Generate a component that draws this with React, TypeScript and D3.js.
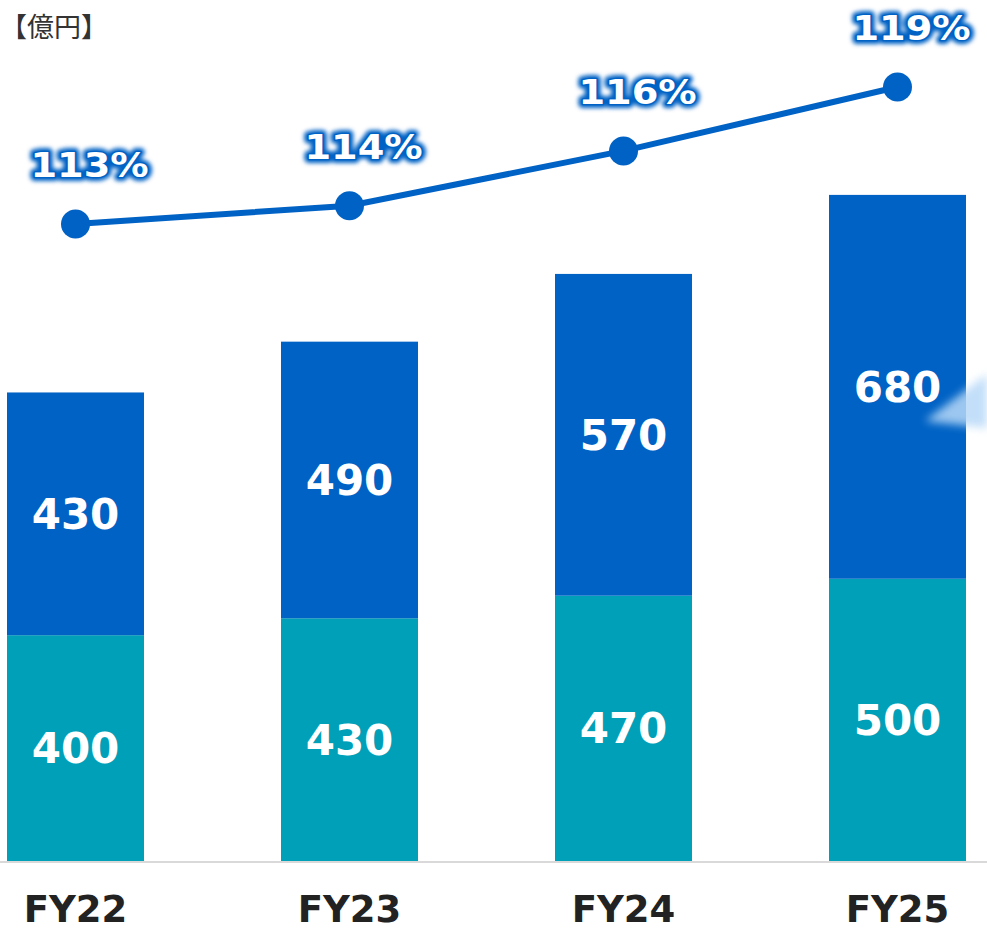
import React from "react";
import * as d3 from "d3";

const categories = ["FY22", "FY23", "FY24", "FY25"];
const lowerValues = [400, 430, 470, 500];
const upperValues = [430, 490, 570, 680];
const ratioValues = [113.0, 113.8, 116.2, 119.0];
const unitLabel = "【億円】";

const W = 987;
const H = 931;
const BASE = 861;

export default function App() {
  const x = d3.scaleBand<string>().domain(categories).range([7, 966]).paddingInner(0.5).paddingOuter(0);
  const y = d3.scaleLinear().domain([0, 1000]).range([BASE, BASE - 564.5]);
  const yp = d3.scaleLinear().domain([113, 119]).range([224, 87]);
  const bw = x.bandwidth();
  const cx = (c: string) => (x(c) as number) + bw / 2;

  const linePts: [number, number][] = categories.map((c, i) => [cx(c), yp(ratioValues[i])]);
  const line = d3.line()(linePts) as string;

  const colTop = "#0062c4";
  const colBot = "#00a0b8";

  return (
    <svg width={W} height={H} style={{ position: "absolute", left: 0, top: 0 }}>
      <defs>
        <filter id="glow" x="-20%" y="-50%" width="140%" height="200%">
          <feGaussianBlur stdDeviation="2" />
        </filter>
        <filter id="wedge" x="-50%" y="-50%" width="200%" height="200%">
          <feGaussianBlur stdDeviation="4" />
        </filter>
      </defs>
      <rect width={W} height={H} fill="#fff" />
      <text x={0} y={37} fontFamily="'Noto Sans CJK JP', sans-serif" fontSize={27} fill="#333">
        {unitLabel}
      </text>
      {categories.map((c, i) => {
        const x0 = x(c) as number;
        const yb = y(lowerValues[i]);
        const yt = y(lowerValues[i] + upperValues[i]);
        return (
          <g key={c}>
            <rect x={x0} y={yb} width={bw} height={BASE - yb} fill={colBot} />
            <rect x={x0} y={yt} width={bw} height={yb - yt} fill={colTop} />
            <text x={cx(c)} y={(yb + BASE) / 2} dy="0.36em" textAnchor="middle" fontFamily="'DejaVu Sans', sans-serif" fontWeight="bold" fontSize={42} fill="#fff">
              {lowerValues[i]}
            </text>
            <text x={cx(c)} y={(yb + yt) / 2} dy="0.36em" textAnchor="middle" fontFamily="'DejaVu Sans', sans-serif" fontWeight="bold" fontSize={42} fill="#fff">
              {upperValues[i]}
            </text>
            <text x={cx(c)} y={922} textAnchor="middle" fontFamily="'DejaVu Sans', sans-serif" fontWeight="bold" fontSize={37} fill="#222">
              {c}
            </text>
          </g>
        );
      })}
      <line x1={0} x2={W} y1={BASE + 1} y2={BASE + 1} stroke="#d9d9d9" strokeWidth={2} />
      <polygon points="925,421 987,374 987,428" fill="#b8d9f8" opacity={0.85} filter="url(#wedge)" />
      <path d={line} fill="none" stroke={colTop} strokeWidth={6} />
      {linePts.map((p, i) => (
        <circle key={i} cx={p[0]} cy={p[1]} r={14.5} fill={colTop} />
      ))}
      {linePts.map((p, i) => {
        const label = Math.round(ratioValues[i]) + "%";
        const tx = p[0] + 14;
        const ty = p[1] - 47;
        return (
          <g key={"p" + i} transform={`translate(${tx},${ty}) scale(1.16,1)`}>
            <text textAnchor="middle" fontFamily="'DejaVu Sans', sans-serif" fontWeight="bold" fontSize={33} fill={colTop} stroke={colTop} strokeWidth={8} strokeLinejoin="round" filter="url(#glow)">
              {label}
            </text>
            <text textAnchor="middle" fontFamily="'DejaVu Sans', sans-serif" fontWeight="bold" fontSize={33} fill="#fff" stroke={colTop} strokeWidth={2.5} strokeLinejoin="round" paintOrder="stroke">
              {label}
            </text>
          </g>
        );
      })}
    </svg>
  );
}
